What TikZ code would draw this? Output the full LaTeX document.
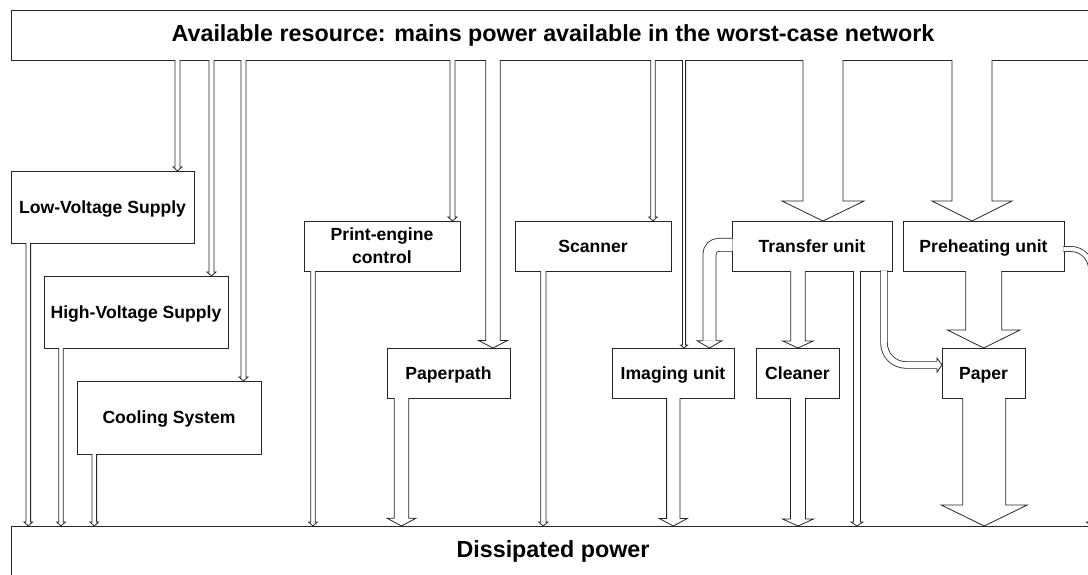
\documentclass[tikz,border=0pt]{standalone}
\usepackage{fontspec}
\setmainfont{Liberation Sans}
\usetikzlibrary{calc}
% straight hollow flow arrow: #1 x centre, #2 source node, #3 target node,
% #4 half shaft width, #5 half head width, #6 head length
\newcommand\flow[6]{%
  \path[fill=white] let \p1=(#2.south), \p2=(#3.north) in
    (#1pt-#4pt,\y1+1.2pt) -- (#1pt-#4pt,\y2+#6pt) -- (#1pt-#5pt,\y2+#6pt) -- (#1pt,\y2)
    -- (#1pt+#5pt,\y2+#6pt) -- (#1pt+#4pt,\y2+#6pt) -- (#1pt+#4pt,\y1+1.2pt) -- cycle;
  \draw[flowline] let \p1=(#2.south), \p2=(#3.north) in
    (#1pt-#4pt,\y1) -- (#1pt-#4pt,\y2+#6pt) -- (#1pt-#5pt,\y2+#6pt) -- (#1pt,\y2)
    -- (#1pt+#5pt,\y2+#6pt) -- (#1pt+#4pt,\y2+#6pt) -- (#1pt+#4pt,\y1);
}
\begin{document}
\begin{tikzpicture}[x=1pt,y=-1pt,
  box/.style={draw=black!85, line width=0.8pt, fill=white, inner sep=0pt, outer sep=0pt,
    font=\fontsize{17.6}{23}\selectfont\bfseries, align=center},
  oneline/.style={text height=12.6pt, text depth=0pt},
  bigbox/.style={box, font=\fontsize{23.3}{28}\selectfont\bfseries, text height=16.7pt},
  flowline/.style={draw=black!85, line width=0.8pt, line join=miter},
  hollow/.style={draw=black!85, line width=0.8pt, double=white, double distance=#1},
]
\useasboundingbox (0,0) rectangle (1088,574);

% boxes
\node[bigbox, text depth=3pt, minimum width=1084pt, minimum height=50pt] (top) at (553,35)
  {Available resource: mains power available in the worst-case network};
\node[bigbox, text depth=4pt, minimum width=1084pt, minimum height=50pt] (bot) at (553,551)
  {Dissipated power};
\node[box, oneline, minimum width=183pt, minimum height=72pt] (lv) at (102.5,207) {Low-Voltage Supply};
\node[box, oneline, minimum width=184pt, minimum height=72pt] (hv) at (136,312) {High-Voltage Supply};
\node[box, oneline, minimum width=184pt, minimum height=73pt] (cool) at (169,417.5) {Cooling System};
\node[box, minimum width=156pt, minimum height=50pt] (pec) at (382,246) {Print-engine\\control};
\node[box, oneline, minimum width=123pt, minimum height=50pt] (pp) at (448.5,373) {Paperpath};
\node[box, oneline, minimum width=156pt, minimum height=50pt] (scan) at (593,246) {Scanner};
\node[box, oneline, minimum width=160pt, minimum height=50pt] (trans) at (812,246) {Transfer unit};
\node[box, oneline, minimum width=122pt, minimum height=50pt] (img) at (673,373) {Imaging unit};
\node[box, oneline, minimum width=83pt, minimum height=50pt] (clean) at (797.5,373) {Cleaner};
\node[box, oneline, minimum width=161pt, minimum height=50pt] (pre) at (983.5,246) {Preheating unit};
\node[box, oneline, minimum width=83pt, minimum height=50pt] (paper) at (983.5,373) {Paper};

% flows from the available resource
\flow{177.5}{top}{lv}{2.5}{4.5}{4}
\flow{211.5}{top}{hv}{2.5}{4.5}{4}
\flow{243.5}{top}{cool}{2.5}{4.5}{4}
\flow{452.5}{top}{pec}{2.5}{4.5}{4}
\flow{493}{top}{pp}{7.2}{14.4}{7.5}
\flow{653}{top}{scan}{2.2}{4.2}{4}
\flow{684}{top}{img}{1.6}{3.5}{3}
\flow{823}{top}{trans}{20}{41}{20}
\flow{972}{top}{pre}{20}{40}{20}

% flows between units
\flow{798}{trans}{clean}{7.3}{15.2}{7}
\flow{983.7}{pre}{paper}{18}{36.3}{18}

% flows to dissipated power
\flow{28.3}{lv}{bot}{2.3}{4.3}{4}
\flow{61}{hv}{bot}{2.3}{4.3}{4}
\flow{94.3}{cool}{bot}{2.3}{4.3}{4}
\flow{313}{pec}{bot}{2.3}{4.3}{4}
\flow{401.5}{pp}{bot}{7.3}{14.3}{7.7}
\flow{543.3}{scan}{bot}{2.6}{4.6}{4}
\flow{673.3}{img}{bot}{6.7}{14}{7.5}
\flow{798}{clean}{bot}{7.5}{15.5}{7}
\flow{857}{trans}{bot}{3.5}{6}{4}
\flow{984.2}{paper}{bot}{21.5}{43}{21}

% curved flows
\coordinate (c1a) at (732.6,244.8);
\coordinate (c1b) at (709.5,340.7);
\draw[hollow=12.2pt, rounded corners=9.5pt] (c1a) -- (c1a -| c1b) -- (c1b);
\filldraw[flowline, fill=white] (703,340.7) -- (697,340.7) -- (709.5,348) -- (722,340.7) -- (716,340.7);

\coordinate (c2a) at (884,270.4);
\coordinate (c2b) at (937,365);
\draw[hollow=5.8pt, rounded corners=22pt] (c2a) -- (c2a |- c2b) -- (c2b);
\filldraw[flowline, fill=white] (937,361.7) -- (937,358) -- (942,365) -- (937,372) -- (937,368.3);

\coordinate (c3a) at (1063.4,249);
\coordinate (c3b) at (1091,522);
\draw[hollow=4.2pt, rounded corners=20pt] (c3a) -- (c3a -| c3b) -- (c3b);
\filldraw[flowline, fill=white] (1088.5,522) -- (1086.5,522) -- (1091,526) -- (1095.5,522) -- (1093.5,522);
\end{tikzpicture}
\end{document}
